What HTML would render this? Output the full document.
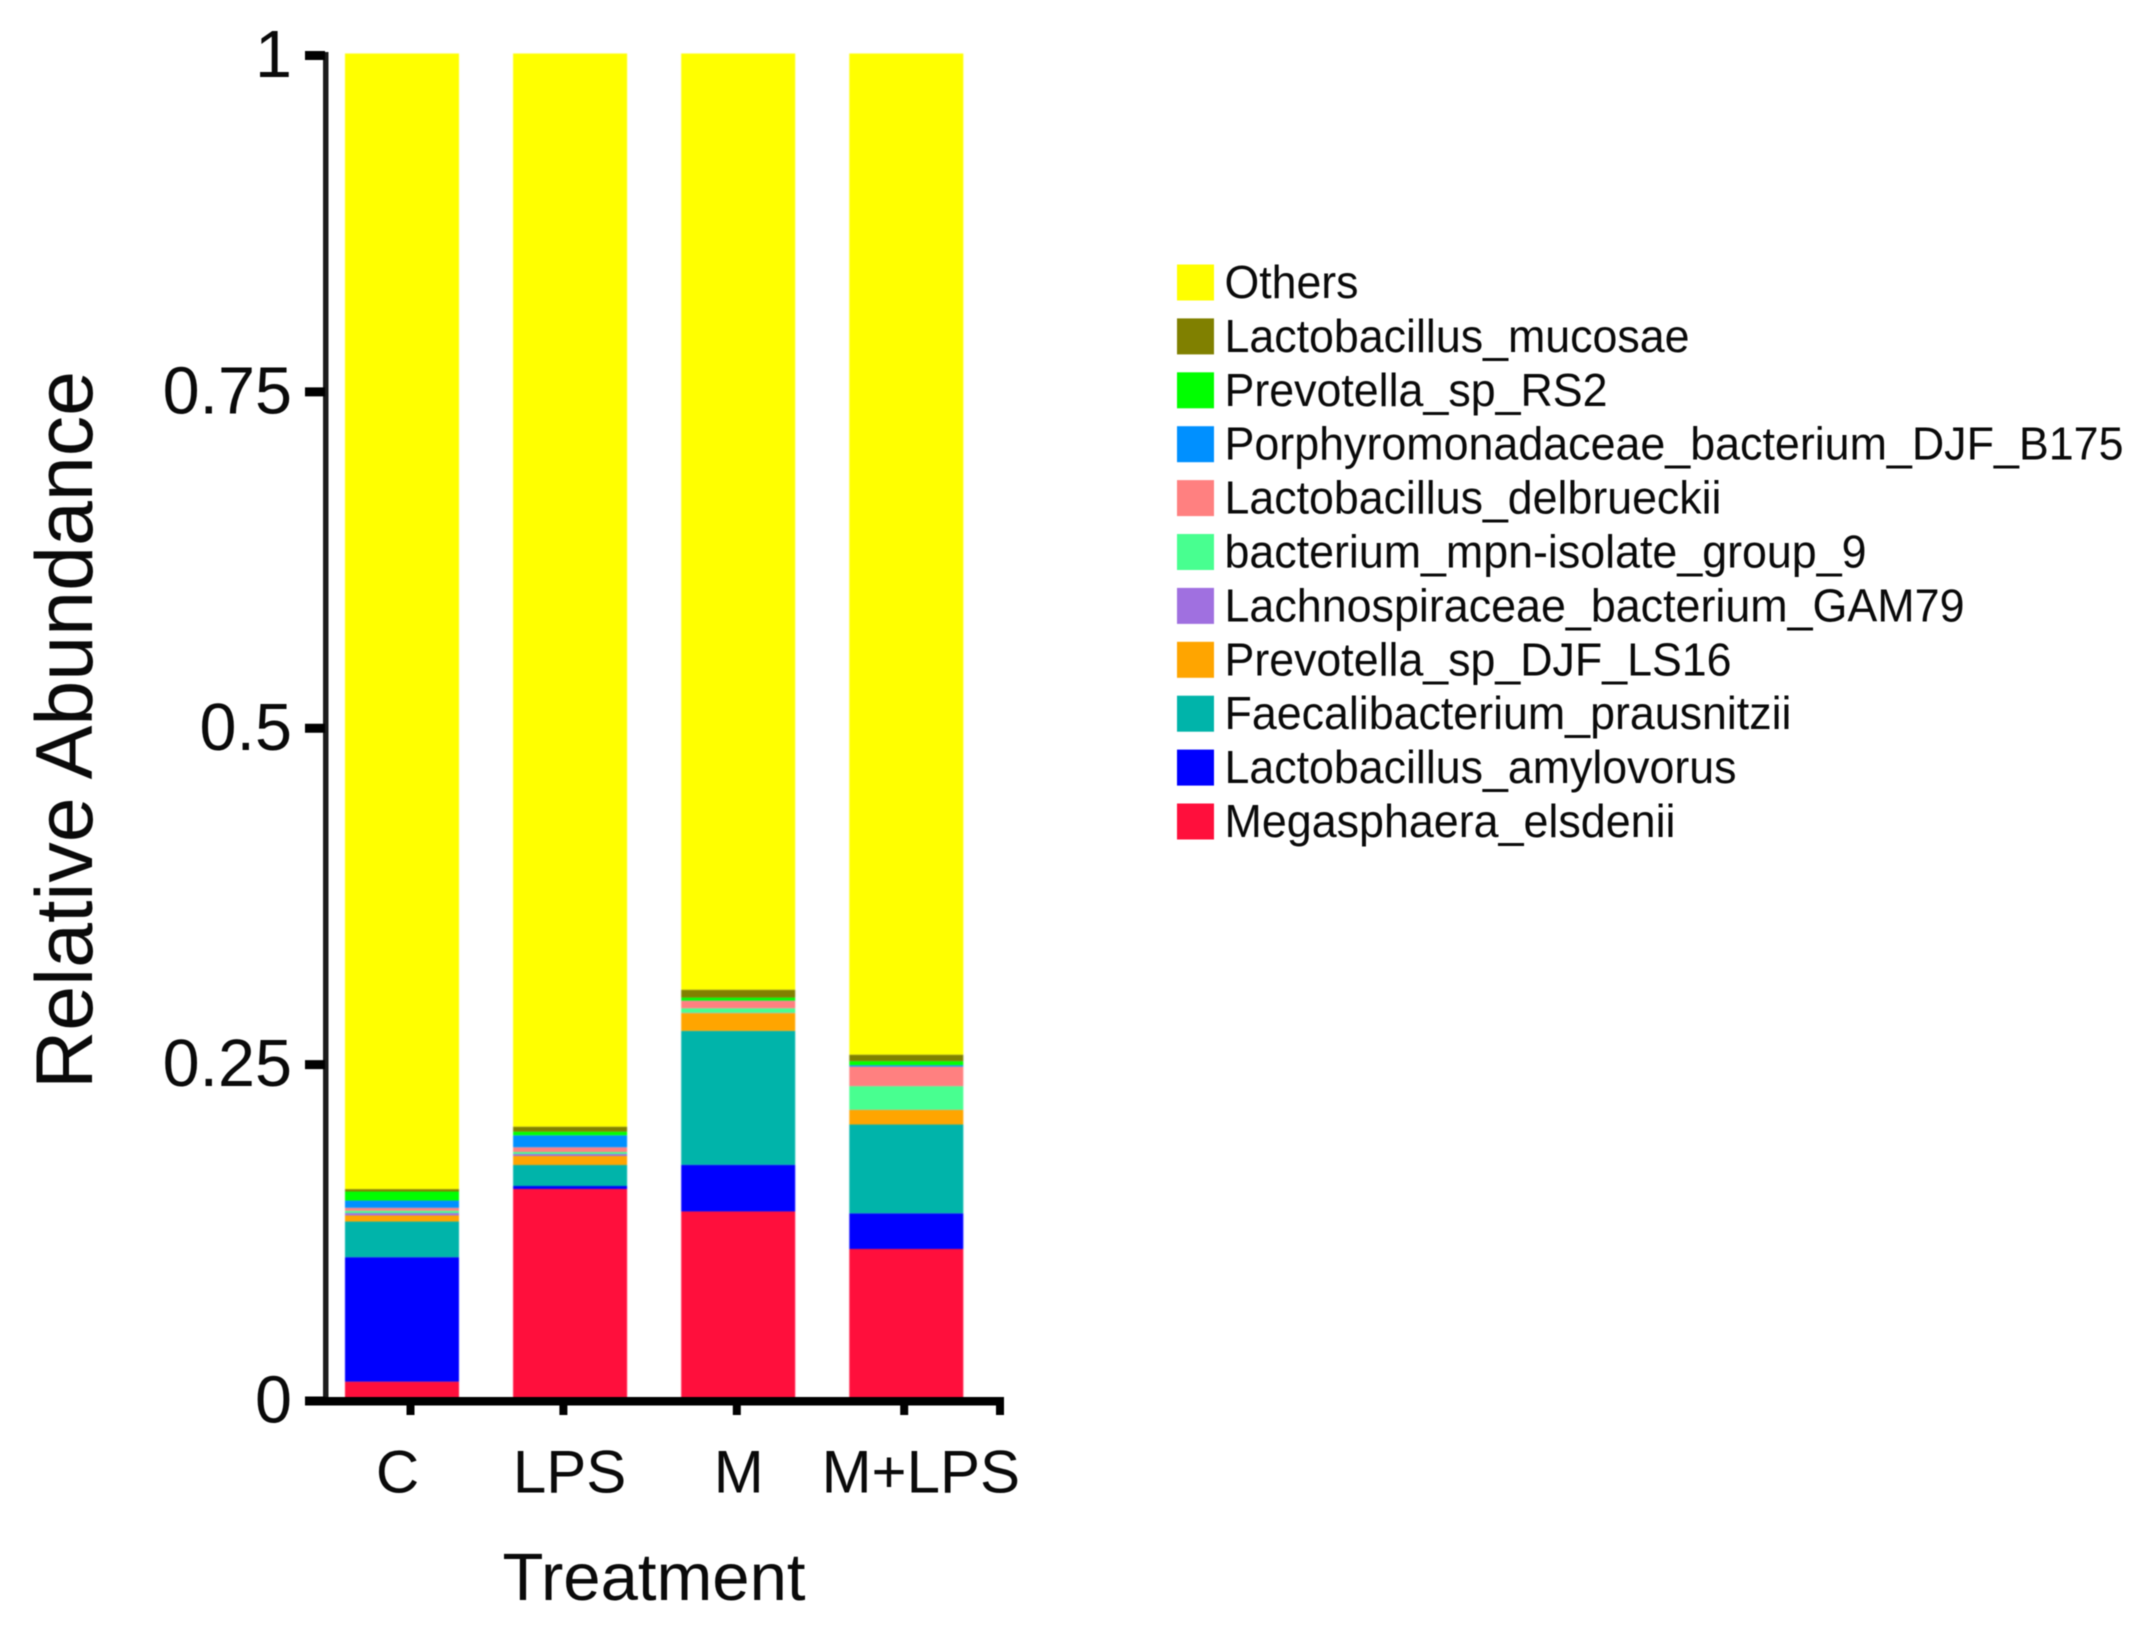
<!DOCTYPE html>
<html lang="en">
<head>
<meta charset="utf-8">
<title>Relative Abundance by Treatment</title>
<style>
html,body{margin:0;padding:0;background:#fff;}
svg{display:block;}
text{font-family:"Liberation Sans",sans-serif;fill:#0a0a0a;}
</style>
</head>
<body>
<svg id="chart" xmlns="http://www.w3.org/2000/svg" width="2146" height="1633" viewBox="0 0 2146 1633">
  <rect x="0" y="0" width="2146" height="1633" fill="#ffffff"/>
  <g id="plot" style="filter:blur(0.7px)"></g>
  <g id="axes" style="filter:blur(0.6px)"></g>
  <g style="filter:blur(0.5px)">
    <text transform="translate(92,730) rotate(-90)" text-anchor="middle" font-size="81" textLength="718" lengthAdjust="spacingAndGlyphs">Relative Abundance</text>
    <text x="502.5" y="1600" font-size="67" textLength="303" lengthAdjust="spacingAndGlyphs">Treatment</text>
  </g>
  <g style="filter:blur(0.6px)">
    <g><rect x="1177" y="264.5" width="37" height="36" fill="#ffff00"/><text x="1224.5" y="298" font-size="46" textLength="134" lengthAdjust="spacingAndGlyphs">Others</text></g>
    <g><rect x="1177" y="318.4" width="37" height="36" fill="#808000"/><text x="1224.5" y="351.9" font-size="46" textLength="465" lengthAdjust="spacingAndGlyphs">Lactobacillus_mucosae</text></g>
    <g><rect x="1177" y="372.3" width="37" height="36" fill="#00ff00"/><text x="1224.5" y="405.8" font-size="46" textLength="383" lengthAdjust="spacingAndGlyphs">Prevotella_sp_RS2</text></g>
    <g><rect x="1177" y="426.2" width="37" height="36" fill="#0090ff"/><text x="1224.5" y="459.7" font-size="46" textLength="899" lengthAdjust="spacingAndGlyphs">Porphyromonadaceae_bacterium_DJF_B175</text></g>
    <g><rect x="1177" y="480.1" width="37" height="36" fill="#ff8080"/><text x="1224.5" y="513.6" font-size="46" textLength="497" lengthAdjust="spacingAndGlyphs">Lactobacillus_delbrueckii</text></g>
    <g><rect x="1177" y="534" width="37" height="36" fill="#48ff90"/><text x="1224.5" y="567.5" font-size="46" textLength="642" lengthAdjust="spacingAndGlyphs">bacterium_mpn-isolate_group_9</text></g>
    <g><rect x="1177" y="587.9" width="37" height="36" fill="#a070e0"/><text x="1224.5" y="621.4" font-size="46" textLength="740" lengthAdjust="spacingAndGlyphs">Lachnospiraceae_bacterium_GAM79</text></g>
    <g><rect x="1177" y="641.8" width="37" height="36" fill="#ffa500"/><text x="1224.5" y="675.3" font-size="46" textLength="507" lengthAdjust="spacingAndGlyphs">Prevotella_sp_DJF_LS16</text></g>
    <g><rect x="1177" y="695.7" width="37" height="36" fill="#00b4aa"/><text x="1224.5" y="729.2" font-size="46" textLength="567" lengthAdjust="spacingAndGlyphs">Faecalibacterium_prausnitzii</text></g>
    <g><rect x="1177" y="749.6" width="37" height="36" fill="#0000ff"/><text x="1224.5" y="783.1" font-size="46" textLength="512" lengthAdjust="spacingAndGlyphs">Lactobacillus_amylovorus</text></g>
    <g><rect x="1177" y="803.5" width="37" height="36" fill="#ff0f3c"/><text x="1224.5" y="837" font-size="46" textLength="451" lengthAdjust="spacingAndGlyphs">Megasphaera_elsdenii</text></g>
  </g>
</svg>
<script>
const categories = ['C', 'LPS', 'M', 'M+LPS'];
const yTickValues = [0, 0.25, 0.5, 0.75, 1];
const yTickLabels = ['0', '0.25', '0.5', '0.75', '1'];
const seriesNames = ['megasphaera', 'amylovorus', 'faecalibacterium', 'ls16', 'lachnospiraceae', 'mpn', 'delbrueckii', 'porphyromonadaceae', 'rs2', 'mucosae', 'others'];
const seriesColors = ['#ff0f3c', '#0000ff', '#00b4aa', '#ffa500', '#a070e0', '#48ff90', '#ff8080', '#0090ff', '#00ff00', '#808000', '#ffff00'];
const megasphaera = [0.0129, 0.1561, 0.1394, 0.1115];
const amylovorus = [0.0925, 0.0022, 0.0346, 0.0265];
const faecalibacterium = [0.0265, 0.0156, 0.0996, 0.0660];
const ls16 = [0.0045, 0.0067, 0.0132, 0.0108];
const lachnospiraceae = [0.0018, 0.0015, 0.0003, 0.0002];
const mpn = [0.0017, 0.0015, 0.0033, 0.0175];
const delbrueckii = [0.0022, 0.0035, 0.0056, 0.0145];
const porphyromonadaceae = [0.0054, 0.0089, 0.0001, 0.0011];
const rs2 = [0.0067, 0.0027, 0.0022, 0.0030];
const mucosae = [0.0018, 0.0037, 0.0059, 0.0048];
const others = [0.8440, 0.7976, 0.6958, 0.7441];
const seriesValues = [megasphaera, amylovorus, faecalibacterium, ls16, lachnospiraceae, mpn, delbrueckii, porphyromonadaceae, rs2, mucosae, others];

const NS = 'http://www.w3.org/2000/svg';
const plot = document.getElementById('plot');
const axes = document.getElementById('axes');
const Y0 = 1399, YSCALE = 1345.5;
const BAND0 = 345, BAND_STEP = 168.1, BAR_W = 114;
function y(v) { return Y0 - v * YSCALE; }
function barLeft(i) { return BAND0 + i * BAND_STEP; }
function barCenter(i) { return barLeft(i) + BAR_W / 2; }
function make(tag, attrs, parent) {
  const el = document.createElementNS(NS, tag);
  for (const k in attrs) el.setAttribute(k, attrs[k]);
  parent.appendChild(el);
  return el;
}

categories.forEach(function (cat, i) {
  let acc = 0;
  seriesValues.forEach(function (vals, s) {
    const v = vals[i];
    const top = y(acc + v);
    const bottom = y(acc);
    const seg = make('rect', { x: barLeft(i), y: top, width: BAR_W, height: bottom - top, fill: seriesColors[s] }, plot);
    
    
    acc += v;
  });
});

const yAxisLine = make('rect', { x: 323, y: 52, width: 5.5, height: 1350, fill: '#1c1c1c' }, axes);


const xAxisLine = make('rect', { x: 305, y: 1397, width: 699, height: 8.5, fill: '#000000' }, axes);



const Y_TICK_SHIFT = 2;
yTickValues.forEach(function (v, i) {
  const cy = y(v) + Y_TICK_SHIFT;
  const tick = make('rect', { x: 305, y: cy - 4.5, width: 20, height: 9, fill: '#000000' }, axes);
  
  
  const label = make('text', { x: 292, y: cy + 21.5, 'text-anchor': 'end', 'font-size': 66.5 }, axes);
  label.textContent = yTickLabels[i];
  
  
});

const layoutTickNudge = [8.5, -6.7, -1.4, -2.1];
const layoutLabelNudge = [-4.5, -0.5, 0.6, 14.5];
categories.forEach(function (cat, i) {
  const tx = barCenter(i) + layoutTickNudge[i];
  const tick = make('rect', { x: tx - 4, y: 1400, width: 8, height: 15, fill: '#000000' }, axes);
  
  
  const label = make('text', { x: barCenter(i) + layoutLabelNudge[i], y: 1492.5, 'text-anchor': 'middle', 'font-size': 60 }, axes);
  label.textContent = cat;
  
  
});
const endTick = make('rect', { x: 996, y: 1400, width: 8, height: 15, fill: '#000000' }, axes);


</script>
</body>
</html>
